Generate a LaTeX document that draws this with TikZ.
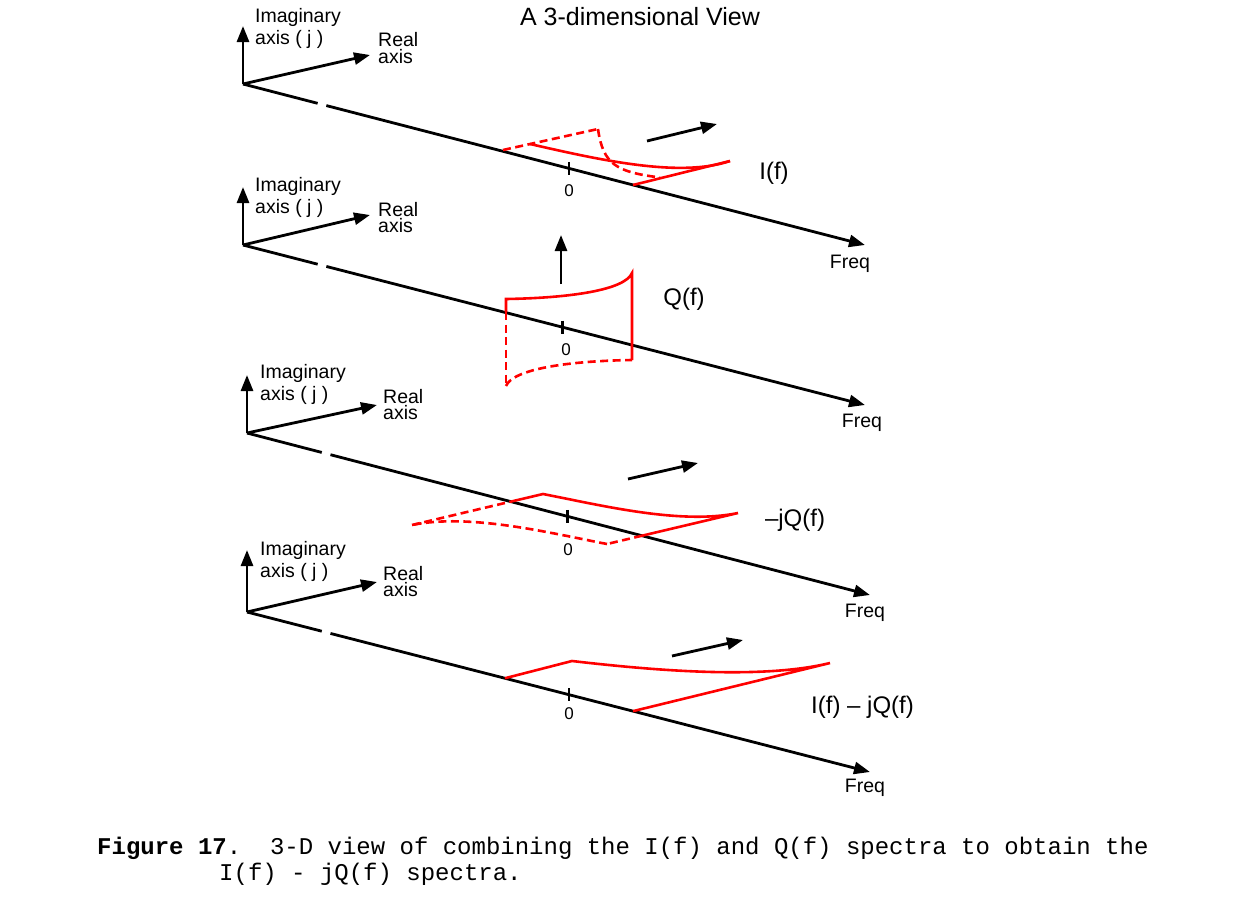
\documentclass[tikz,border=0pt]{standalone}
\usepackage{fontspec}
\setmainfont{Liberation Sans}
\newfontfamily\capfont{Liberation Mono}
\usetikzlibrary{arrows.meta,calc}
\begin{document}
\begin{tikzpicture}[x=1pt,y=-1pt,
  axisline/.style={line width=2.8pt, black},
  arr/.style={axisline, -{Triangle[length=16pt,width=12pt]}},
  spec/.style={line width=2.6pt, red},
  hid/.style={spec, dash pattern=on 8pt off 4.5pt},
  imlbl/.style={font=\fontsize{19.5}{21.5}\selectfont, inner sep=0pt, anchor=base west, align=left},
  relbl/.style={font=\fontsize{19.5}{16.5}\selectfont, inner sep=0pt, anchor=base west, align=left},
  freqlbl/.style={font=\fontsize{19.5}{22}\selectfont, inner sep=0pt, anchor=base},
  big/.style={font=\fontsize{24}{26}\selectfont, inner sep=0pt, anchor=base},
  ttl/.style={font=\fontsize{25}{27}\selectfont, inner sep=0pt, anchor=base},
  zero/.style={font=\fontsize{17}{19}\selectfont, inner sep=0pt, anchor=base},
  tickmark/.style={line width=2.8pt, black},
  captext/.style={font=\capfont\fontsize{24}{26}\selectfont\frenchspacing, inner sep=0pt, anchor=base west}
]
\useasboundingbox (0,0) rectangle (1258,908);

\node[ttl] (title) at (640,25) {A 3-dimensional View};

% ---------- Panel 1 : I(f)
\coordinate (O1) at (243,84);
\coordinate (F1) at (865,245);
\coordinate (V1) at (243,26);
\coordinate (R1) at (370,55);
\coordinate (G1a) at ($(O1)!0.12!(F1)$);
\coordinate (G1b) at ($(O1)!0.134!(F1)$);
\draw[arr] (O1) -- (V1);
\draw[arr] (O1) -- (R1);
\draw[axisline] (O1) -- (G1a);
\draw[arr] (G1b) -- (F1);
\node[imlbl] (im1) at (255,44) {Imaginary\\axis ( j )};
\node[relbl] (re1) at (378,63) {Real\\axis};
\node[freqlbl] (fq1) at (850,268) {Freq};
\coordinate (T1) at ($(O1)!0.524!(F1)$);
\draw[tickmark] ($(T1)+(0,-6.5)$) -- ($(T1)+(0,6.5)$);
\node[zero] (z1) at (569,196) {0};
\coordinate (a1) at (503,150);
\coordinate (b1) at (598,129);
\coordinate (c1) at (530,144);
\coordinate (d1) at (660,177.5);
\coordinate (e1) at (633,185);
\coordinate (f1) at (730,161);
\draw[hid] (a1) -- (b1);
\draw[hid] (b1) .. controls (603,165) and (617,172) .. (d1);
\draw[spec] (c1) .. controls (600,160) and (680,178) .. (f1);
\draw[spec] (e1) -- (f1);
\coordinate (m1s) at (647,141);
\coordinate (m1e) at (717,124);
\draw[arr] (m1s) -- (m1e);
\node[big] (lI) at (774,179) {I(f)};

% ---------- Panel 2 : Q(f)
\coordinate (O2) at (243,245);
\coordinate (F2) at (865,405);
\coordinate (V2) at (243,187);
\coordinate (R2) at (370,215);
\coordinate (G2a) at ($(O2)!0.12!(F2)$);
\coordinate (G2b) at ($(O2)!0.134!(F2)$);
\draw[arr] (O2) -- (V2);
\draw[arr] (O2) -- (R2);
\draw[axisline] (O2) -- (G2a);
\draw[arr] (G2b) -- (F2);
\node[imlbl] (im2) at (255,213) {Imaginary\\axis ( j )};
\node[relbl] (re2) at (378,232.5) {Real\\axis};
\node[freqlbl] (fq2) at (862,427) {Freq};
\coordinate (T2) at ($(O2)!0.514!(F2)$);
\draw[tickmark] ($(T2)+(0,-6.5)$) -- ($(T2)+(0,6.5)$);
\node[zero] (z2) at (566,355) {0};
\coordinate (q2tl) at (506,299);
\coordinate (q2al) at (506,312);
\coordinate (q2bl) at (506,386);
\coordinate (q2tr) at (632,273);
\coordinate (q2br) at (632,360);
\draw[spec] (q2al) -- (q2tl) .. controls (570,298) and (625,290) .. (q2tr) -- (q2br);
\draw[hid] (q2al) -- (q2bl);
\draw[hid] (q2bl) .. controls (513,369) and (568,361) .. (q2br);
\coordinate (m2s) at (561,284);
\coordinate (m2e) at (561,235);
\draw[arr] (m2s) -- (m2e);
\node[big] (lQ) at (684,305) {Q(f)};

% ---------- Panel 3 : -jQ(f)
\coordinate (O3) at (247,433);
\coordinate (F3) at (870,595);
\coordinate (V3) at (247,375);
\coordinate (R3) at (377,405);
\coordinate (G3a) at ($(O3)!0.12!(F3)$);
\coordinate (G3b) at ($(O3)!0.134!(F3)$);
\draw[arr] (O3) -- (V3);
\draw[arr] (O3) -- (R3);
\draw[axisline] (O3) -- (G3a);
\draw[arr] (G3b) -- (F3);
\node[imlbl] (im3) at (260,400) {Imaginary\\axis ( j )};
\node[relbl] (re3) at (383,419.5) {Real\\axis};
\node[freqlbl] (fq3) at (865,617) {Freq};
\coordinate (T3) at ($(O3)!0.515!(F3)$);
\draw[tickmark] ($(T3)+(0,-6.5)$) -- ($(T3)+(0,6.5)$);
\node[zero] (z3) at (568,555) {0};
\coordinate (p3) at (412,525);
\coordinate (q3) at (543,494);
\coordinate (r3) at (738,513);
\coordinate (s3) at (607,544);
\coordinate (X3a) at (intersection of p3--q3 and O3--F3);
\coordinate (X3b) at (intersection of s3--r3 and O3--F3);
\draw[spec] (X3a) -- (q3) .. controls (600,505) and (680,525) .. (r3) -- (X3b);
\draw[hid] (p3) -- (X3a);
\draw[hid] (X3b) -- (s3);
\draw[hid] (s3) .. controls (550,533) and (470,513) .. (p3);
\coordinate (m3s) at (628,479);
\coordinate (m3e) at (698,463);
\draw[arr] (m3s) -- (m3e);
\node[big] (lmjQ) at (795,526) {\textendash jQ(f)};

% ---------- Panel 4 : I(f) - jQ(f)
\coordinate (O4) at (247,612);
\coordinate (F4) at (870,772);
\coordinate (V4) at (247,550);
\coordinate (R4) at (377,582);
\coordinate (G4a) at ($(O4)!0.12!(F4)$);
\coordinate (G4b) at ($(O4)!0.134!(F4)$);
\draw[arr] (O4) -- (V4);
\draw[arr] (O4) -- (R4);
\draw[axisline] (O4) -- (G4a);
\draw[arr] (G4b) -- (F4);
\node[imlbl] (im4) at (260,577) {Imaginary\\axis ( j )};
\node[relbl] (re4) at (383,596.5) {Real\\axis};
\node[freqlbl] (fq4) at (865,792) {Freq};
\coordinate (T4) at ($(O4)!0.517!(F4)$);
\draw[tickmark] ($(T4)+(0,-6.5)$) -- ($(T4)+(0,6.5)$);
\node[zero] (z4) at (569,719) {0};
\coordinate (a4) at ($(O4)!0.414!(F4)$);
\coordinate (b4) at (572,661);
\coordinate (c4) at (830,663);
\coordinate (d4) at ($(O4)!0.6196!(F4)$);
\draw[spec] (a4) -- (b4) .. controls (650,670) and (760,680) .. (c4) -- (d4);
\coordinate (m4s) at (672,656);
\coordinate (m4e) at (743,640);
\draw[arr] (m4s) -- (m4e);
\node[big] (lIjQ) at (862.5,713) {I(f) \textendash\ jQ(f)};

% ---------- Caption
\node[captext] (cap1) at (97,854) {\textbf{Figure 17}.~~3-D view of combining the I(f) and Q(f) spectra to obtain the};
\node[captext] (cap2) at (219,880) {I(f) - jQ(f) spectra.};
\end{tikzpicture}
\end{document}
